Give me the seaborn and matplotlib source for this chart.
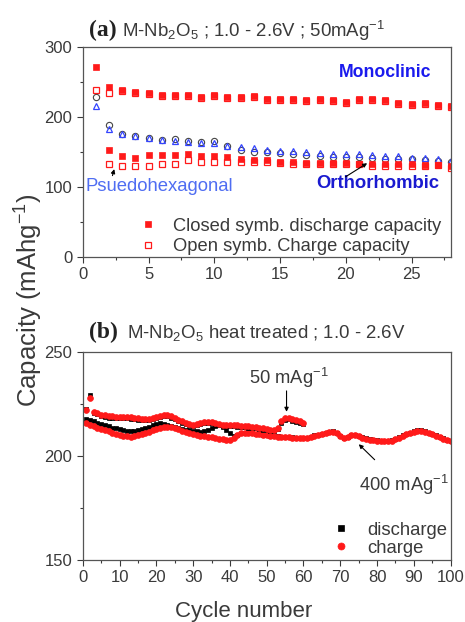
import numpy as np
import pandas as pd
import seaborn as sns
import matplotlib.pyplot as plt
from matplotlib.ticker import AutoMinorLocator

sns.set_style("ticks")
plt.rcParams['font.family'] = ['Liberation Sans', 'DejaVu Sans']
plt.rcParams['mathtext.fontset'] = 'custom'
plt.rcParams['mathtext.rm'] = 'Liberation Sans'
plt.rcParams['mathtext.it'] = 'Liberation Sans:italic'
plt.rcParams['mathtext.bf'] = 'Liberation Sans:bold'

# ---- panel (a): M-Nb2O5, 50 mA/g ----
cyc_a = list(range(1, 29))
mono_dis = [272, 243, 239, 236, 234, 232, 232, 232, 229, 231, 229, 228, 230, 226,
            226, 226, 224.5, 225, 223.5, 221.6, 225, 225, 223.5, 219.8, 217.8, 219.8, 217, 216]
mono_chg = [238, 234, 237.5, 234.5, 232.5, 230.5, 230.5, 230.5, 227.5, 229.5, 227.5, 226.5, 228.5, 224.5,
            224.5, 224.5, 223, 223.5, 222, 220, 223.5, 223.5, 222, 218.3, 216.3, 218.3, 215.5, 214.5]
pseudo_tri = [215, 183, 175, 172, 170, 167, 165.5, 164, 163, 162, 158, 157, 155, 153,
              151, 151, 150, 148, 147.5, 147, 147, 145, 144, 144, 141.6, 141, 139, 137]
pseudo_circ = [228, 188, 176, 172, 170, 167, 168, 165, 164, 166, 158, 153, 150, 149,
               148, 147, 145, 144, 143, 143, 142, 141, 140, 140, 139, 138, 137, 136]
cyc_ortho = list(range(2, 29))
ortho_dis = [152, 144.5, 141.6, 146, 146, 146, 147, 144.5, 143.6, 142, 139, 138, 138, 136,
             135, 134.5, 134, 134, 133.5, 133, 133, 132.5, 132, 132, 131.5, 131.5, 130]
ortho_chg = [133, 130, 130, 130, 132, 133, 138, 136, 136, 136, 135.5, 135, 135, 134,
             133, 132, 132, 132, 133, 132, 130, 130, 129, 129, 129, 131, 127]

# ---- panel (b): heat treated ----
cyc_b1 = list(range(1, 61))   # run ending at 60 (switch to 50 mA/g)
b1_chg = [222, 227.8, 221.2, 220.5, 219.8, 219.4, 219, 218.9, 218.8, 218.8,
          218.7, 218.6, 218.5, 218.2, 218, 217.8, 217.6, 217.8, 218.3, 218.8,
          219.3, 219.6, 219.5, 219, 218.3, 217.4, 216.6, 215.9, 215.3, 215,
          215.4, 216, 216.4, 216.4, 216.2, 215.8, 215.3, 215, 214.9, 214.8,
          214.8, 214.6, 214.5, 214.4, 214.2, 214, 213.8, 213.5, 213.2, 212.9,
          212.6, 212.5, 213.5, 216.5, 218, 218.3, 217.5, 217, 216.5, 216]
b1_dis = [222.3, 229, 220.6, 219.9, 219.2, 218.8, 218.4, 218.3, 218.2, 218.2,
          218.1, 218, 217.9, 217.6, 217.4, 217.2, 217, 217.2, 217.7, 218.2,
          218.7, 219, 218.9, 218.4, 217.7, 216.8, 216, 215.3, 214.7, 214.4,
          214.8, 215.4, 215.8, 215.8, 215.6, 215.2, 214.7, 214.4, 214.3, 214.2,
          214.2, 214, 213.9, 213.8, 213.6, 213.4, 213.2, 212.9, 212.6, 212.3,
          212, 211.9, 212.9, 215.9, 217.4, 217.7, 216.9, 216.4, 215.9, 215.4]
cyc_b2 = list(range(1, 101))  # 400 mA/g run
b2_dis = [217.5, 217, 216.5, 216, 215.4, 214.8, 214.2, 213.6, 213.2, 212.8,
          212.4, 212.1, 212, 212, 212.3, 212.8, 213.3, 214, 214.7, 215.2,
          215.6, 215.5, 215, 214.4, 213.8, 213.2, 212.8, 212.4, 212.2, 212,
          211.8, 211.6, 211.8, 212.6, 213.6, 214.4, 214.8, 214, 212.5, 211,
          209.5, 210.2, 211, 211.2, 211.2, 211, 210.7, 210.5, 210.2, 210,
          209.7, 209.5, 209.4, 209.2, 209.2, 209.2, 209, 208.8, 208.7, 208.6,
          208.8, 209.2, 209.8, 210.2, 210.7, 211.2, 211.6, 211.8, 211.2, 209.7,
          208.7, 209.2, 210, 210.2, 209.7, 209, 208.4, 208, 207.7, 207.4,
          207.2, 207.2, 207.2, 207.5, 208.2, 209, 209.8, 210.6, 211.2, 211.8,
          212.2, 212.2, 211.8, 211.2, 210.5, 209.8, 209.2, 208.5, 207.8, 207.2]
b2_chg = [216, 215, 214.3, 213.6, 213, 212.3, 211.7, 211, 210.5, 210,
          209.6, 209.3, 209.2, 209.4, 209.8, 210.3, 210.8, 211.5, 212.2, 212.8,
          213.3, 213.8, 214, 213.8, 213.3, 212.7, 212, 211.5, 211, 210.5,
          210, 209.6, 209.3, 209.2, 209, 208.7, 208.3, 208, 207.7, 207.6,
          208.5, 210, 210.8, 211, 211, 210.8, 210.5, 210.3, 210, 209.8,
          209.5, 209.3, 209.2, 209, 209, 209, 208.8, 208.6, 208.5, 208.4,
          208.6, 209, 209.6, 210, 210.5, 211, 211.4, 211.6, 211, 209.5,
          208.5, 209, 209.8, 210, 209.5, 208.8, 208.2, 207.8, 207.5, 207.2,
          207, 207, 207, 207.3, 208, 208.8, 209.6, 210.4, 211, 211.6,
          212, 212, 211.6, 211, 210.3, 209.6, 209, 208.3, 207.6, 207]

RED = '#ff1a1a'
TXT = '#3a3a3a'


def dots(ax, x, y, marker, ms, fc, ec, mew=0.9):
    sns.lineplot(x=x, y=y, ax=ax, marker=marker, linestyle='', markersize=ms,
                 markerfacecolor=fc, markeredgecolor=ec, markeredgewidth=mew,
                 color=ec, legend=False)
    return ax.lines[-1]


def style_axes(ax):
    ax.xaxis.set_minor_locator(AutoMinorLocator(2))
    ax.yaxis.set_minor_locator(AutoMinorLocator(2))
    ax.tick_params(which='both', direction='out', colors=TXT, width=0.8, labelsize=12,
                   top=False, right=False)
    ax.tick_params(which='major', length=4)
    ax.tick_params(which='minor', length=2.5)
    for s in ax.spines.values():
        s.set_visible(True)
        s.set_color('#555555')
        s.set_linewidth(0.9)
    ax.set_xlabel('')
    ax.set_ylabel('')


fig = plt.figure(figsize=(4.65, 6.22), dpi=100)
ax_a = fig.add_axes([0.178, 0.5876, 0.792, 0.3368])
ax_b = fig.add_axes([0.178, 0.0997, 0.791, 0.3349])

# panel (a)
dots(ax_a, cyc_a, pseudo_circ, 'o', 4.5, 'none', '#444444', 0.8)
dots(ax_a, cyc_a, pseudo_tri, '^', 5, 'none', '#3344ff', 0.9)
h_dis = dots(ax_a, cyc_a, mono_dis, 's', 3.8, RED, RED, 0.5)
h_chg = dots(ax_a, cyc_a, mono_chg, 's', 4.2, 'none', RED, 0.9)
dots(ax_a, cyc_ortho, ortho_dis, 's', 3.8, RED, RED, 0.5)
dots(ax_a, cyc_ortho, ortho_chg, 's', 4.2, 'none', RED, 0.9)

ax_a.set_xlim(0, 28)
ax_a.set_ylim(0, 300)
ax_a.set_xticks(range(0, 26, 5))
ax_a.set_yticks([0, 100, 200, 300])
style_axes(ax_a)

ax_a.text(23.0, 264, 'Monoclinic', color='#1a1aee', fontsize=12.7, fontweight='bold',
          ha='center', va='center')
ax_a.text(22.4, 104, 'Orthorhombic', color='#1a1ad0', fontsize=13.3, fontweight='bold',
          ha='center', va='center')
ax_a.text(5.8, 100, 'Psuedohexagonal', color='#4f6df2', fontsize=13.3,
          ha='center', va='center')
ax_a.annotate('', xy=(2.45, 129), xytext=(2.2, 112),
              arrowprops=dict(arrowstyle='-|>', color='black', lw=0.8, mutation_scale=6))
ax_a.annotate('', xy=(21.8, 135.7), xytext=(19.8, 112),
              arrowprops=dict(arrowstyle='-|>', color='black', lw=0.8, mutation_scale=6))
ax_a.legend([h_dis, h_chg], ['Closed symb. discharge capacity', 'Open symb. Charge capacity'],
            loc='lower left', bbox_to_anchor=(0.131, -0.03), borderaxespad=0, frameon=False,
            fontsize=13.2, handlelength=1.0, handletextpad=0.9, labelspacing=0.2, labelcolor=TXT)

# panel (b)
dots(ax_b, cyc_b2, b2_dis, 's', 3.4, 'black', 'black', 0.5)
dots(ax_b, cyc_b2, b2_chg, 'o', 4.2, RED, RED, 0.5)
dots(ax_b, cyc_b1, b1_dis, 's', 3.4, 'black', 'black', 0.5)
dots(ax_b, cyc_b1, b1_chg, 'o', 4.2, RED, RED, 0.5)
h_bd = ax_b.lines[0]
h_bc = ax_b.lines[1]

ax_b.set_xlim(0, 100)
ax_b.set_ylim(150, 250)
ax_b.set_xticks(range(0, 101, 10))
ax_b.set_yticks([150, 200, 250])
style_axes(ax_b)

ax_b.text(56, 237.4, '50 mAg$^{-1}$', color=TXT, fontsize=13.2, ha='center', va='center')
ax_b.annotate('', xy=(55.4, 219.8), xytext=(55.4, 232.5),
              arrowprops=dict(arrowstyle='-|>', color='black', lw=0.8, mutation_scale=6))
ax_b.text(87.3, 186, '400 mAg$^{-1}$', color=TXT, fontsize=13.2, ha='center', va='center')
ax_b.annotate('', xy=(74.5, 206.5), xytext=(79.9, 197.2),
              arrowprops=dict(arrowstyle='-|>', color='black', lw=0.8, mutation_scale=6))
ax_b.legend([h_bd, h_bc], ['discharge', 'charge'], loc='lower left',
            bbox_to_anchor=(0.658, -0.02), borderaxespad=0, frameon=False, fontsize=13.3,
            handlelength=1.0, handletextpad=0.92, labelspacing=0.05, labelcolor=TXT,
            markerscale=1.2)

# titles and shared labels
fig.text(89 / 465, 1 - 30 / 622, '(a)', family='Liberation Serif', fontweight='bold',
         fontsize=17, va='center', ha='left', color='#222222')
fig.text(122 / 465, 1 - 31 / 622, 'M-Nb$_2$O$_5$ ; 1.0 - 2.6V ; 50mAg$^{-1}$', fontsize=13.4,
         va='center', ha='left', color=TXT)
fig.text(89 / 465, 1 - 332 / 622, '(b)', family='Liberation Serif', fontweight='bold',
         fontsize=17, va='center', ha='left', color='#222222')
fig.text(127 / 465, 1 - 333 / 622, 'M-Nb$_2$O$_5$ heat treated ; 1.0 - 2.6V', fontsize=13.4,
         va='center', ha='left', color=TXT)
fig.text(244 / 465, 1 - 611 / 622, 'Cycle number', fontsize=16, ha='center', va='center',
         color=TXT)
fig.text(29 / 465, 1 - 300 / 622, 'Capacity (mAhg$^{-1}$)', fontsize=18.5, rotation=90,
         ha='center', va='center', color=TXT)

fig.savefig('out.png', dpi=100)
